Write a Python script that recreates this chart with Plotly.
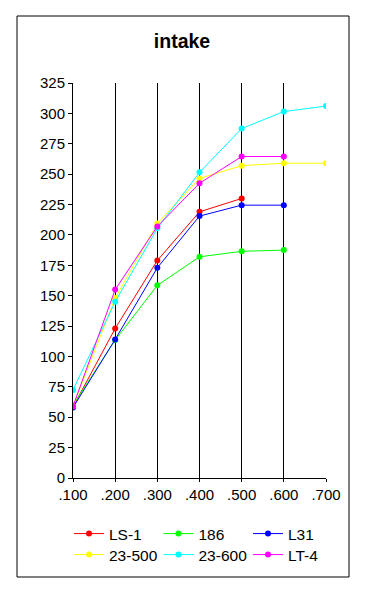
import plotly.graph_objects as go

x_vals = [0.1, 0.2, 0.3, 0.4, 0.5, 0.6, 0.7]
tick_labels = [".100", ".200", ".300", ".400", ".500", ".600", ".700"]

ls1 = [58.5, 123, 179, 219, 230]
s186 = [60, 113.5, 158.5, 182, 186.5, 187.5]
l31 = [58, 114, 173, 215.5, 224.5, 224.5]
s23_500 = [59, 148, 209.5, 246.5, 257, 259, 259]
s23_600 = [72.5, 145, 205.5, 251.5, 287.5, 301.5, 306]
lt4 = [59, 155, 207, 242.5, 264.5, 264.5]

series = [
    ("LS-1", ls1, "#ff0000", "legend"),
    ("186", s186, "#00ff00", "legend"),
    ("L31", l31, "#0000ff", "legend"),
    ("23-500", s23_500, "#ffff00", "legend2"),
    ("23-600", s23_600, "#00ffff", "legend2"),
    ("LT-4", lt4, "#ff00ff", "legend2"),
]

fig = go.Figure()
for name, vals, color, leg in series:
    fig.add_trace(go.Scatter(
        x=x_vals[:len(vals)], y=vals, name=name, mode="lines+markers",
        line=dict(color=color, width=1), marker=dict(color=color, size=6),
        legend=leg,
    ))

# page has an 8px body margin; figure is sized to fit inside the window
OFF = 8
W, H = 366 - OFF, 594 - OFF
L, R, T, B = 73, 326, 83, 478  # plot-area edges in page pixels
pw, ph = R - L, B - T

def px(xp):
    return (xp - L) / pw

def py(yp):
    return (B - yp) / ph

FAM = "Liberation Sans, Arial, sans-serif"
font = dict(family=FAM, size=15, color="black")
lfont = dict(family=FAM, size=15.5, color="black")

fig.update_layout(
    width=W, height=H,
    margin=dict(l=L - OFF, r=W - (R - OFF), t=T - OFF, b=H - (B - OFF), pad=0),
    paper_bgcolor="white", plot_bgcolor="white",
    font=font,
    showlegend=True,
    title=dict(text="<b>intake</b>", x=px(182), xref="paper", xanchor="center",
               y=1 - (41 - OFF) / H, yref="container", yanchor="middle",
               font=dict(family=FAM, size=19.5, color="black")),
    xaxis=dict(range=[0.1, 0.7], tickvals=x_vals, ticktext=tick_labels,
               showgrid=True, gridcolor="black", gridwidth=1,
               showline=True, linecolor="black", linewidth=1,
               ticks="outside", ticklen=3, tickcolor="black",
               zeroline=False, fixedrange=True, tickfont=font),
    yaxis=dict(range=[0, 325], dtick=25, tick0=0,
               showgrid=False, showline=True, linecolor="black", linewidth=1,
               ticks="outside", ticklen=4, tickcolor="black",
               zeroline=False, fixedrange=True, tickfont=font),
    legend=dict(orientation="h", x=px(69), y=py(534), xanchor="left", yanchor="middle",
                entrywidth=44.5, entrywidthmode="pixels", itemwidth=30,
                font=lfont, bgcolor="rgba(0,0,0,0)", tracegroupgap=0),
    legend2=dict(orientation="h", x=px(69), y=py(555), xanchor="left", yanchor="middle",
                 entrywidth=44.5, entrywidthmode="pixels", itemwidth=30,
                 font=lfont, bgcolor="rgba(0,0,0,0)", tracegroupgap=0),
    shapes=[dict(type="rect", xref="paper", yref="paper",
                 x0=px(17), x1=px(349), y0=py(577), y1=py(16),
                 line=dict(color="black", width=1), fillcolor="rgba(0,0,0,0)",
                 layer="below")],
)

fig.write_html("out.html")
